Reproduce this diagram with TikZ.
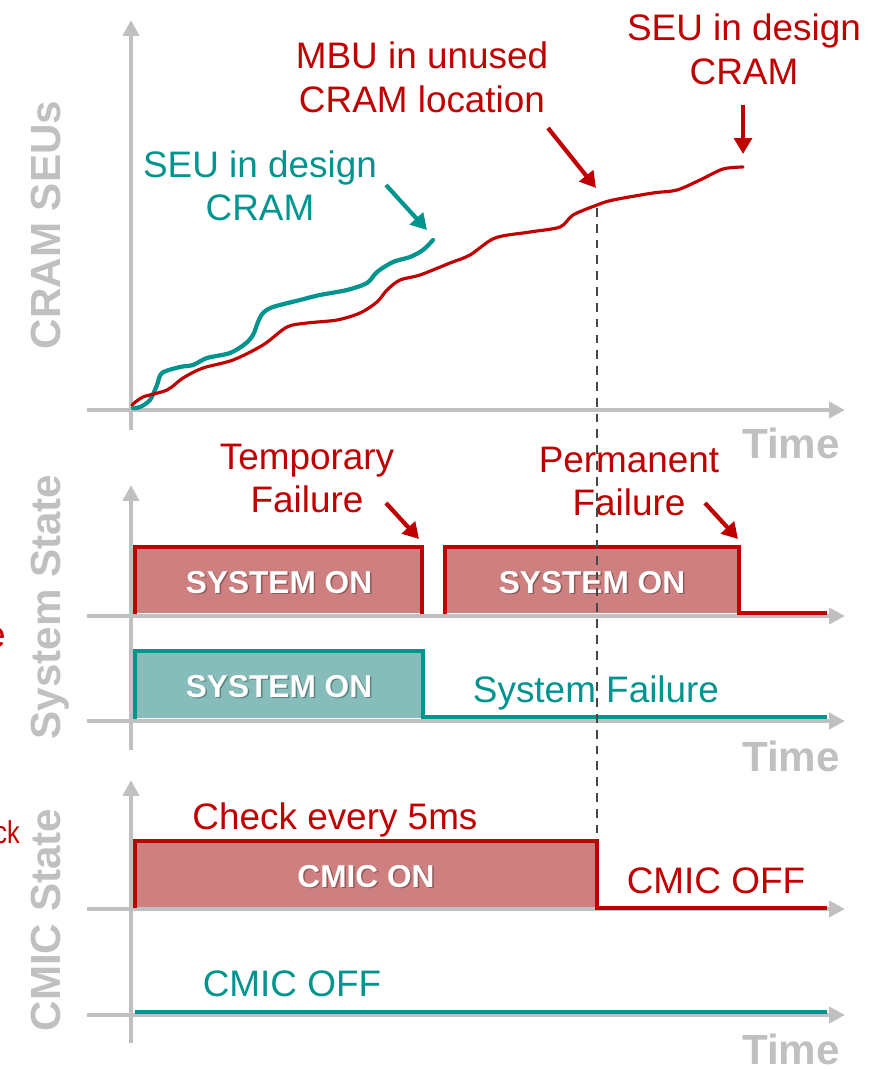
\documentclass[tikz,border=0pt]{standalone}
\usepackage{fontspec}
\setmainfont{Liberation Sans}
\usetikzlibrary{arrows.meta,calc}
\definecolor{cred}{RGB}{192,0,0}
\definecolor{cteal}{RGB}{0,148,142}
\definecolor{credfill}{RGB}{206,128,128}
\definecolor{ctealfill}{RGB}{134,189,186}
\definecolor{caxis}{RGB}{192,192,192}
\definecolor{cdash}{RGB}{70,70,70}

\begin{document}
\begin{tikzpicture}[x=0.02cm,y=-0.02cm,
  axis/.style={draw=caxis,line width=2.6pt,-{Triangle[length=9pt,width=9pt]}},
  lbl/.style={font=\fontsize{21}{24.5}\selectfont,inner sep=0pt,anchor=base},
  axlbl/.style={font=\fontsize{24}{28}\selectfont\bfseries,text=caxis,rotate=90,inner sep=0pt,anchor=base},
  timelbl/.style={font=\fontsize{24}{28}\selectfont\bfseries,text=caxis,inner sep=0pt,anchor=base},
  ontext/.style={font=\fontsize{18}{21}\selectfont\bfseries,text=white,inner sep=0pt,anchor=base},
  onshadow/.style={font=\fontsize{18}{21}\selectfont\bfseries,text=black,opacity=0.3,inner sep=0pt,anchor=base},
  callout/.style={line width=2.4pt,-{Triangle[length=9pt,width=10pt]}},
  redline/.style={draw=cred,line width=2.2pt},
  tealline/.style={draw=cteal,line width=2.2pt},
]
\useasboundingbox (0,0) rectangle (889,1069);
\clip (0,0) rectangle (889,1069);

% ---------- axis end points ----------
\coordinate (a1b) at (131,430);  \coordinate (a1t) at (131,20);
\coordinate (a1l) at (87,410);   \coordinate (a1r) at (845,410);
\coordinate (a2b) at (131,750);  \coordinate (a2t) at (131,485);
\coordinate (a2l) at (87,616);   \coordinate (a2r) at (845,616);
\coordinate (a2L) at (87,721);   \coordinate (a2R) at (845,721);
\coordinate (a3b) at (131,1043); \coordinate (a3t) at (131,780);
\coordinate (a3l) at (87,909);   \coordinate (a3r) at (845,909);
\coordinate (a3L) at (87,1015);  \coordinate (a3R) at (845,1015);

% ---------- state boxes (corners) ----------
\coordinate (s1a) at (135,614); \coordinate (s1b) at (422,547);
\coordinate (s2a) at (445,614); \coordinate (s2b) at (739,547);
\coordinate (s2e) at (827,613);
\coordinate (t1a) at (135,719); \coordinate (t1b) at (423,651);
\coordinate (t1e) at (827,717);
\coordinate (c1a) at (135,908); \coordinate (c1b) at (597,841);
\coordinate (c1e) at (827,908);
\coordinate (c2a) at (135,1012); \coordinate (c2e) at (827,1012);

\fill[credfill] (137,613) rectangle (421,548);
\fill[credfill] (447,613) rectangle (738,548);
\fill[ctealfill] (137,718) rectangle (422,652);
\fill[credfill] (137,907) rectangle (596,842);

% ---------- axes ----------
\draw[axis] (a1b) -- (a1t);
\draw[axis] (a1l) -- (a1r);
\draw[axis] (a2b) -- (a2t);
\draw[axis] (a2l) -- (a2r);
\draw[axis] (a2L) -- (a2R);
\draw[axis] (a3b) -- (a3t);
\draw[axis] (a3l) -- (a3r);
\draw[axis] (a3L) -- (a3R);

% ---------- axis titles ----------
\node[axlbl] (ycram) at (60,225) {CRAM SEUs};
\node[axlbl] (ysys) at (60,607) {System State};
\node[axlbl] (ycmic) at (60,920) {CMIC State};
\node[timelbl] (time1) at (791,458) {Time};
\node[timelbl] (time2) at (791,771) {Time};
\node[timelbl] (time3) at (791,1064) {Time};

% partly visible labels at the left border
\node[lbl,text=cred,anchor=base east] (cut1) at (6,647) {e};
\node[lbl,text=cred,anchor=base east,font=\fontsize{18}{21}\selectfont,xscale=0.8] (cut2) at (20,843) {ck};

% ---------- SEU curves ----------
\draw[cteal,line width=2.4pt,line join=round,line cap=round] plot[smooth,tension=0.5] coordinates {
 (133,408) (140,407) (150,400) (157,385) (162,373) (180,367) (193,365) (207,358)
 (230,353) (245,344) (253,335) (258,322) (263,313) (273,307) (300,300) (320,295)
 (347,290) (367,283) (377,272) (393,262) (410,257) (423,250) (433,240)};
\draw[cred,line width=1.8pt,line join=round,line cap=round] plot[smooth,tension=0.5] coordinates {
 (132,405) (143,397) (167,390) (183,378) (203,368) (233,360) (263,345) (287,327)
 (307,323) (337,320) (360,313) (377,302) (387,290) (400,280) (420,275) (450,263)
 (470,255) (495,238) (530,232) (560,227) (573,215) (597,205) (613,200) (653,193)
 (677,190) (700,180) (723,169) (743,167)};

% ---------- state outlines ----------
\draw[redline] (s1a) |- (s1b) -- (s1b |- s1a);
\draw[redline] (s2a) |- (s2b) |- (s2e);
\draw[tealline] (t1a) |- (t1b) |- (t1e);
\draw[redline] (c1a) |- (c1b) |- (c1e);
\draw[tealline] (c2a) -- (c2e);

% ---------- box labels ----------
\node[onshadow] at (280.5,594.5) {SYSTEM ON};
\node[ontext] (on1) at (279,593) {SYSTEM ON};
\node[onshadow] at (593.5,594.5) {SYSTEM ON};
\node[ontext] (on2) at (592,593) {SYSTEM ON};
\node[onshadow] at (280.5,698.5) {SYSTEM ON};
\node[ontext] (on3) at (279,697) {SYSTEM ON};
\node[onshadow] at (367.5,888.5) {CMIC ON};
\node[ontext] (on4) at (366,887) {CMIC ON};

% ---------- annotations ----------
\node[lbl,text=cteal] (seuA1) at (260,177) {SEU in design};
\node[lbl,text=cteal] (seuA2) at (260,220) {CRAM};
\node[lbl,text=cred] (mbu1) at (422,68) {MBU in unused};
\node[lbl,text=cred] (mbu2) at (422,112) {CRAM location};
\node[lbl,text=cred] (seuB1) at (744,40) {SEU in design};
\node[lbl,text=cred] (seuB2) at (744,84) {CRAM};
\node[lbl,text=cred] (tmp1) at (307,469) {Temporary};
\node[lbl,text=cred] (tmp2) at (307,512) {Failure};
\node[lbl,text=cred] (prm1) at (629,472) {Permanent};
\node[lbl,text=cred] (prm2) at (629,515) {Failure};
\node[lbl,text=cteal] (sfail) at (596,702) {System Failure};
\node[lbl,text=cred] (chk) at (335,829) {Check every 5ms};
\node[lbl,text=cred] (off1) at (716,893) {CMIC OFF};
\node[lbl,text=cteal] (off2) at (292,996) {CMIC OFF};

% ---------- callout arrows ----------
\coordinate (ar1s) at (386,185); \coordinate (ar1e) at (427,230);
\coordinate (ar2s) at (548,128); \coordinate (ar2e) at (596,188);
\coordinate (ar3s) at (743,105); \coordinate (ar3e) at (743,154);
\coordinate (ar4s) at (386,503); \coordinate (ar4e) at (419,539);
\coordinate (ar5s) at (705,503); \coordinate (ar5e) at (738,539);
\draw[callout,cteal] (ar1s) -- (ar1e);
\draw[callout,cred] (ar2s) -- (ar2e);
\draw[callout,cred] (ar3s) -- (ar3e);
\draw[callout,cred] (ar4s) -- (ar4e);
\draw[callout,cred] (ar5s) -- (ar5e);

% ---------- marker of the MBU instant ----------
\coordinate (mk1) at (597,208); \coordinate (mk2) at (597,841);
\draw[cdash,line width=1pt,dash pattern=on 5pt off 4pt] (mk1) -- (mk2);
\end{tikzpicture}
\end{document}
